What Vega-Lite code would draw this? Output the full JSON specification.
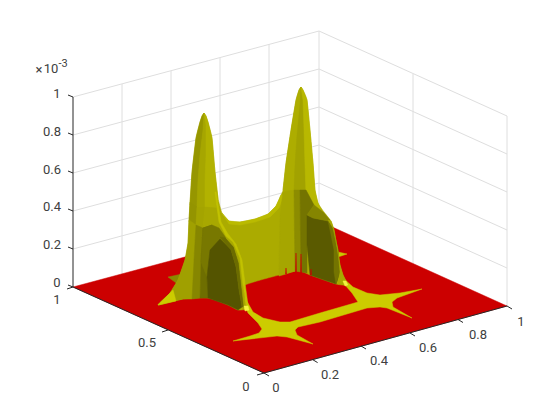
{"$schema":"https://vega.github.io/schema/vega-lite/v6.json","width":560,"height":420,"autosize":{"type":"fit","contains":"padding"},"padding":0,"background":"white","config":{"view":{"stroke":null}},
"datasets":{
"grid":[{"h":73,"v":249,"h2":319,"v2":183},{"h":73,"v":211,"h2":319,"v2":145},{"h":73,"v":173,"h2":319,"v2":107},{"h":73,"v":135,"h2":319,"v2":69},{"h":73,"v":97,"h2":319,"v2":31},{"h":319,"v":183,"h2":507,"v2":268},{"h":319,"v":145,"h2":507,"v2":230},{"h":319,"v":107,"h2":507,"v2":192},{"h":319,"v":69,"h2":507,"v2":154},{"h":319,"v":31,"h2":507,"v2":116},{"h":122,"v":274,"h2":122,"v2":84},{"h":171,"v":261,"h2":171,"v2":71},{"h":220,"v":248,"h2":220,"v2":58},{"h":269,"v":234,"h2":269,"v2":44},{"h":319,"v":221,"h2":319,"v2":31},{"h":413,"v":264,"h2":413,"v2":74},{"h":507,"v":306,"h2":507,"v2":116}],
"axes":[{"h":73,"v":287,"h2":73,"v2":97},{"h":264,"v":373,"h2":507,"v2":306},{"h":73,"v":287,"h2":264,"v2":373},{"h":73,"v":287,"h2":68,"v2":285},{"h":73,"v":249,"h2":68,"v2":247},{"h":73,"v":211,"h2":68,"v2":209},{"h":73,"v":173,"h2":68,"v2":171},{"h":73,"v":135,"h2":68,"v2":133},{"h":73,"v":97,"h2":68,"v2":95},{"h":264,"v":373,"h2":269,"v2":376},{"h":312.6,"v":359.6,"h2":317.6,"v2":362.6},{"h":361,"v":346,"h2":366,"v2":349},{"h":410,"v":333,"h2":415,"v2":336},{"h":458,"v":319.5,"h2":463,"v2":322.5},{"h":507,"v":306,"h2":512,"v2":309},{"h":264,"v":373,"h2":257,"v2":375},{"h":168,"v":330,"h2":162,"v2":332},{"h":73,"v":287,"h2":67,"v2":289}],
"labels":[{"t":"0","h":276,"v":388},{"t":"0.2","h":330,"v":375},{"t":"0.4","h":379,"v":361},{"t":"0.6","h":428,"v":348},{"t":"0.8","h":478,"v":335},{"t":"1","h":521,"v":322},{"t":"0","h":246,"v":387},{"t":"0.5","h":147,"v":343},{"t":"1","h":57,"v":300},{"t":"0","h":57,"v":283},{"t":"0.2","h":52,"v":245},{"t":"0.4","h":52,"v":207},{"t":"0.6","h":52,"v":170},{"t":"0.8","h":52,"v":132},{"t":"1","h":57,"v":94},{"t":"×","h":39,"v":70},{"t":"10","h":51,"v":69}],
"sup":[{"t":"-3","h":63,"v":64}],
"flat":[
{"p":"floor","h":73,"v":287},{"p":"floor","h":319,"v":221},{"p":"floor","h":507,"v":306},{"p":"floor","h":264,"v":373},
{"p":"band","h":233,"v":341},{"p":"band","h":250,"v":336},{"p":"band","h":259,"v":333},{"p":"band","h":262,"v":329},{"p":"band","h":258,"v":323},{"p":"band","h":248,"v":313},{"p":"band","h":243,"v":300},{"p":"band","h":245,"v":298},{"p":"band","h":253,"v":312},{"p":"band","h":263,"v":318},{"p":"band","h":280,"v":322},{"p":"band","h":290,"v":322},{"p":"band","h":320,"v":313},{"p":"band","h":358,"v":302},{"p":"band","h":352,"v":293},{"p":"band","h":345,"v":285},{"p":"band","h":343,"v":278},{"p":"band","h":353,"v":287},{"p":"band","h":367,"v":293},{"p":"band","h":380,"v":295},{"p":"band","h":400,"v":293},{"p":"band","h":422,"v":289},{"p":"band","h":397,"v":298},{"p":"band","h":392,"v":302},{"p":"band","h":393,"v":307},{"p":"band","h":412,"v":318},{"p":"band","h":387,"v":308},{"p":"band","h":380,"v":307},{"p":"band","h":367,"v":308},{"p":"band","h":320,"v":322},{"p":"band","h":298,"v":327},{"p":"band","h":295,"v":330},{"p":"band","h":297,"v":335},{"p":"band","h":313,"v":344},{"p":"band","h":287,"v":337},{"p":"band","h":277,"v":336},
{"p":"tipR","h":338,"v":252},{"p":"tipR","h":347,"v":254},{"p":"tipR","h":338,"v":257},
{"p":"tipL","h":168,"v":277},{"p":"tipL","h":182,"v":274},{"p":"tipL","h":179,"v":285}],
"sil":[{"p":"sil","h":158,"v":305},{"p":"sil","h":170,"v":293},{"p":"sil","h":178,"v":280},{"p":"sil","h":185,"v":260},{"p":"sil","h":188,"v":243},{"p":"sil","h":189,"v":220},{"p":"sil","h":190,"v":202},{"p":"sil","h":192,"v":172},{"p":"sil","h":196,"v":138},{"p":"sil","h":200,"v":122},{"p":"sil","h":202,"v":116},{"p":"sil","h":204,"v":113},{"p":"sil","h":206,"v":116},{"p":"sil","h":208,"v":122},{"p":"sil","h":212,"v":138},{"p":"sil","h":215,"v":172},{"p":"sil","h":218,"v":198},{"p":"sil","h":222,"v":213},{"p":"sil","h":229,"v":221},{"p":"sil","h":240,"v":222},{"p":"sil","h":255,"v":219},{"p":"sil","h":268,"v":214},{"p":"sil","h":276,"v":206},{"p":"sil","h":281,"v":195},{"p":"sil","h":283,"v":190},{"p":"sil","h":286,"v":163},{"p":"sil","h":291,"v":130},{"p":"sil","h":296,"v":100},{"p":"sil","h":299,"v":90},{"p":"sil","h":301,"v":87},{"p":"sil","h":303,"v":90},{"p":"sil","h":307,"v":100},{"p":"sil","h":310,"v":130},{"p":"sil","h":313,"v":163},{"p":"sil","h":315,"v":190},{"p":"sil","h":318,"v":203},{"p":"sil","h":324,"v":212},{"p":"sil","h":331,"v":221},{"p":"sil","h":334,"v":230},{"p":"sil","h":337,"v":247},{"p":"sil","h":340,"v":265},{"p":"sil","h":343,"v":275},{"p":"sil","h":348,"v":285},{"p":"sil","h":336,"v":284},{"p":"sil","h":310,"v":275},{"p":"sil","h":296,"v":271},{"p":"sil","h":243,"v":286},{"p":"sil","h":247,"v":308},{"p":"sil","h":238,"v":310},{"p":"sil","h":228,"v":305},{"p":"sil","h":208,"v":298},{"p":"sil","h":183,"v":299}],
"surf":[
{"p":"wallTop","h":222,"v":213},{"p":"wallTop","h":229,"v":221},{"p":"wallTop","h":240,"v":222},{"p":"wallTop","h":255,"v":219},{"p":"wallTop","h":268,"v":214},{"p":"wallTop","h":276,"v":206},{"p":"wallTop","h":281,"v":195},{"p":"wallTop","h":284,"v":195},{"p":"wallTop","h":279,"v":208},{"p":"wallTop","h":270,"v":217},{"p":"wallTop","h":255,"v":222},{"p":"wallTop","h":240,"v":225},{"p":"wallTop","h":229,"v":224},
{"p":"lpA","h":190,"v":205},{"p":"lpA","h":192,"v":172},{"p":"lpA","h":196,"v":138},{"p":"lpA","h":200,"v":122},{"p":"lpA","h":202,"v":116},{"p":"lpA","h":204,"v":113},{"p":"lpA","h":203,"v":130},{"p":"lpA","h":200,"v":155},{"p":"lpA","h":198,"v":180},{"p":"lpA","h":197,"v":207},
{"p":"lpB","h":204,"v":113},{"p":"lpB","h":206,"v":125},{"p":"lpB","h":206,"v":155},{"p":"lpB","h":205,"v":180},{"p":"lpB","h":205,"v":207},{"p":"lpB","h":197,"v":207},{"p":"lpB","h":198,"v":180},{"p":"lpB","h":200,"v":155},{"p":"lpB","h":203,"v":130},
{"p":"lpC","h":204,"v":113},{"p":"lpC","h":206,"v":116},{"p":"lpC","h":208,"v":122},{"p":"lpC","h":212,"v":138},{"p":"lpC","h":215,"v":172},{"p":"lpC","h":218,"v":198},{"p":"lpC","h":216,"v":208},{"p":"lpC","h":205,"v":207},{"p":"lpC","h":205,"v":180},{"p":"lpC","h":206,"v":155},{"p":"lpC","h":206,"v":125},
{"p":"up1","h":190,"v":202},{"p":"up1","h":197,"v":207},{"p":"up1","h":196,"v":225},{"p":"up1","h":189,"v":222},
{"p":"up2","h":197,"v":207},{"p":"up2","h":205,"v":207},{"p":"up2","h":203,"v":228},{"p":"up2","h":196,"v":225},
{"p":"up3","h":205,"v":207},{"p":"up3","h":216,"v":208},{"p":"up3","h":219,"v":222},{"p":"up3","h":226,"v":236},{"p":"up3","h":220,"v":237},{"p":"up3","h":213,"v":238},{"p":"up3","h":212,"v":225},{"p":"up3","h":203,"v":228},
{"p":"L1","h":189,"v":220},{"p":"L1","h":188,"v":243},{"p":"L1","h":185,"v":260},{"p":"L1","h":178,"v":280},{"p":"L1","h":170,"v":293},{"p":"L1","h":158,"v":305},{"p":"L1","h":183,"v":299},{"p":"L1","h":192,"v":299},{"p":"L1","h":194,"v":260},{"p":"L1","h":196,"v":225},
{"p":"L0","h":158,"v":305},{"p":"L0","h":166,"v":297},{"p":"L0","h":173,"v":290},{"p":"L0","h":176,"v":301},
{"p":"L2","h":196,"v":225},{"p":"L2","h":194,"v":260},{"p":"L2","h":192,"v":299},{"p":"L2","h":200,"v":298},{"p":"L2","h":201,"v":262},{"p":"L2","h":203,"v":228},
{"p":"L3","h":203,"v":228},{"p":"L3","h":201,"v":262},{"p":"L3","h":200,"v":298},{"p":"L3","h":208,"v":298},{"p":"L3","h":207,"v":277},{"p":"L3","h":209,"v":252},{"p":"L3","h":213,"v":238},{"p":"L3","h":212,"v":225},
{"p":"tr1","h":203,"v":228},{"p":"tr1","h":212,"v":225},{"p":"tr1","h":219,"v":228},{"p":"tr1","h":226,"v":238},{"p":"tr1","h":232,"v":250},{"p":"tr1","h":210,"v":254},{"p":"tr1","h":207,"v":277},{"p":"tr1","h":201,"v":262},
{"p":"dark1","h":208,"v":298},{"p":"dark1","h":207,"v":277},{"p":"dark1","h":210,"v":250},{"p":"dark1","h":220,"v":239},{"p":"dark1","h":231,"v":250},{"p":"dark1","h":236,"v":267},{"p":"dark1","h":239,"v":290},{"p":"dark1","h":242,"v":307},{"p":"dark1","h":238,"v":310},{"p":"dark1","h":228,"v":305},
{"p":"edge1","h":220,"v":237},{"p":"edge1","h":226,"v":238},{"p":"edge1","h":234,"v":247},{"p":"edge1","h":239,"v":263},{"p":"edge1","h":241.5,"v":285},{"p":"edge1","h":244,"v":307},{"p":"edge1","h":242,"v":307},{"p":"edge1","h":239,"v":290},{"p":"edge1","h":236,"v":267},{"p":"edge1","h":231,"v":250},
{"p":"edge2","h":226,"v":236},{"p":"edge2","h":233,"v":242},{"p":"edge2","h":240,"v":258},{"p":"edge2","h":243,"v":285},{"p":"edge2","h":246,"v":305},{"p":"edge2","h":244,"v":307},{"p":"edge2","h":241.5,"v":285},{"p":"edge2","h":239,"v":263},{"p":"edge2","h":234,"v":247},{"p":"edge2","h":226,"v":238},
{"p":"ridge","h":215,"v":192},{"p":"ridge","h":216,"v":192},{"p":"ridge","h":221,"v":222},{"p":"ridge","h":228,"v":234},{"p":"ridge","h":236,"v":244},{"p":"ridge","h":242,"v":260},{"p":"ridge","h":245,"v":283},{"p":"ridge","h":248,"v":305},{"p":"ridge","h":246,"v":305},{"p":"ridge","h":243,"v":285},{"p":"ridge","h":240,"v":258},{"p":"ridge","h":233,"v":242},{"p":"ridge","h":226,"v":236},{"p":"ridge","h":219,"v":222},
{"p":"spot1","h":244,"v":306},{"p":"spot1","h":248,"v":306},{"p":"spot1","h":249,"v":310},{"p":"spot1","h":245,"v":311},
{"p":"rpA","h":283,"v":190},{"p":"rpA","h":286,"v":163},{"p":"rpA","h":291,"v":130},{"p":"rpA","h":296,"v":100},{"p":"rpA","h":299,"v":90},{"p":"rpA","h":301,"v":87},{"p":"rpA","h":300,"v":105},{"p":"rpA","h":297,"v":135},{"p":"rpA","h":295,"v":165},{"p":"rpA","h":294,"v":190},
{"p":"rpB","h":301,"v":87},{"p":"rpB","h":303,"v":100},{"p":"rpB","h":304,"v":130},{"p":"rpB","h":305,"v":165},{"p":"rpB","h":305,"v":190},{"p":"rpB","h":294,"v":190},{"p":"rpB","h":295,"v":165},{"p":"rpB","h":297,"v":135},{"p":"rpB","h":300,"v":105},
{"p":"rpC","h":301,"v":87},{"p":"rpC","h":303,"v":90},{"p":"rpC","h":307,"v":100},{"p":"rpC","h":310,"v":130},{"p":"rpC","h":313,"v":163},{"p":"rpC","h":315,"v":190},{"p":"rpC","h":318,"v":203},{"p":"rpC","h":322,"v":212},{"p":"rpC","h":314,"v":205},{"p":"rpC","h":306,"v":190},{"p":"rpC","h":305,"v":165},{"p":"rpC","h":304,"v":130},{"p":"rpC","h":303,"v":100},
{"p":"Rs1","h":283,"v":192},{"p":"Rs1","h":294,"v":190},{"p":"Rs1","h":295,"v":271},{"p":"Rs1","h":286,"v":274},{"p":"Rs1","h":279,"v":276},{"p":"Rs1","h":280,"v":215},
{"p":"Rs2","h":294,"v":190},{"p":"Rs2","h":300,"v":190},{"p":"Rs2","h":301,"v":272},{"p":"Rs2","h":295,"v":271},
{"p":"Rs3","h":300,"v":190},{"p":"Rs3","h":306,"v":190},{"p":"Rs3","h":314,"v":205},{"p":"Rs3","h":307,"v":215},{"p":"Rs3","h":307,"v":273},{"p":"Rs3","h":301,"v":272},
{"p":"dark2","h":307,"v":215},{"p":"dark2","h":313,"v":218},{"p":"dark2","h":328,"v":221},{"p":"dark2","h":333,"v":228},{"p":"dark2","h":338,"v":250},{"p":"dark2","h":340,"v":272},{"p":"dark2","h":336,"v":284},{"p":"dark2","h":310,"v":275},{"p":"dark2","h":307,"v":245},
{"p":"blockTop","h":307,"v":215},{"p":"blockTop","h":314,"v":205},{"p":"blockTop","h":323,"v":212},{"p":"blockTop","h":330,"v":220},{"p":"blockTop","h":328,"v":221},{"p":"blockTop","h":313,"v":218},
{"p":"edgeR","h":328,"v":221},{"p":"edgeR","h":333,"v":228},{"p":"edgeR","h":338,"v":250},{"p":"edgeR","h":340,"v":272},{"p":"edgeR","h":336,"v":284},{"p":"edgeR","h":334,"v":272},{"p":"edgeR","h":334,"v":250},{"p":"edgeR","h":330,"v":230},
{"p":"rstrip","h":328,"v":220},{"p":"rstrip","h":331,"v":221},{"p":"rstrip","h":334,"v":230},{"p":"rstrip","h":337,"v":247},{"p":"rstrip","h":340,"v":265},{"p":"rstrip","h":343,"v":275},{"p":"rstrip","h":347,"v":284},{"p":"rstrip","h":338,"v":284},{"p":"rstrip","h":340,"v":272},{"p":"rstrip","h":338,"v":250},{"p":"rstrip","h":333,"v":228},
{"p":"spot2","h":343,"v":281},{"p":"spot2","h":346,"v":281},{"p":"spot2","h":348,"v":285},{"p":"spot2","h":345,"v":286},
{"p":"s1","h":285.5,"v":274},{"p":"s1","h":286,"v":268},{"p":"s1","h":286.5,"v":274},
{"p":"s2","h":295.5,"v":272},{"p":"s2","h":296,"v":253},{"p":"s2","h":296.5,"v":272},
{"p":"s3","h":300.5,"v":273},{"p":"s3","h":301,"v":254},{"p":"s3","h":301.5,"v":273},
{"p":"s4","h":310.5,"v":275},{"p":"s4","h":311,"v":269},{"p":"s4","h":311.5,"v":275}
]},
"encoding":{"x":{"type":"quantitative","scale":{"domain":[0,560],"nice":false,"zero":false},"axis":null},"y":{"type":"quantitative","scale":{"domain":[0,420],"reverse":true,"nice":false,"zero":false},"axis":null}},
"layer":[
{"data":{"name":"grid"},"mark":{"type":"rule","stroke":"#DEDEDE","strokeWidth":1},"encoding":{"x":{"field":"h","type":"quantitative"},"y":{"field":"v","type":"quantitative"},"x2":{"field":"h2"},"y2":{"field":"v2"}}},
{"encoding":{"x":{"field":"h","type":"quantitative"},"y":{"field":"v","type":"quantitative"},"order":{"value":null},
"fill":{"field":"p","type":"nominal","legend":null,"sort":null,"scale":{"domain":["floor","band","tipR","tipL","sil","wallTop","lpA","lpB","lpC","up1","up2","up3","L1","L0","L2","L3","tr1","dark1","edge1","edge2","ridge","spot1","rpA","rpB","rpC","Rs1","Rs2","Rs3","dark2","blockTop","edgeR","rstrip","spot2","s1","s2","s3","s4"],"range":["#CC0000","#CCCC00","#C8C800","#8A8A00","#ABAB00","#BABA00","#969600","#A6A600","#B2B200","#949400","#A4A400","#A8A800","#A0A000","#CCCC00","#868600","#6E6E00","#787800","#545400","#6C6C00","#A8A800","#C2C200","#F4F440","#ADAD00","#A2A200","#B8B800","#A6A600","#8C8C00","#747400","#5A5A00","#858500","#747400","#A8A800","#F4F440","#CC0000","#CC0000","#CC0000","#CC0000"]}},
"stroke":{"field":"p","type":"nominal","legend":null,"sort":null,"scale":{"domain":["floor","band","tipR","tipL","sil","wallTop","lpA","lpB","lpC","up1","up2","up3","L1","L0","L2","L3","tr1","dark1","edge1","edge2","ridge","spot1","rpA","rpB","rpC","Rs1","Rs2","Rs3","dark2","blockTop","edgeR","rstrip","spot2","s1","s2","s3","s4"],"range":["#CC0000","#CCCC00","#C8C800","#8A8A00","#ABAB00","#BABA00","#969600","#A6A600","#B2B200","#949400","#A4A400","#A8A800","#A0A000","#CCCC00","#868600","#6E6E00","#787800","#545400","#6C6C00","#A8A800","#C2C200","#F4F440","#ADAD00","#A2A200","#B8B800","#A6A600","#8C8C00","#747400","#5A5A00","#858500","#747400","#A8A800","#F4F440","#CC0000","#CC0000","#CC0000","#CC0000"]}}},
"layer":[
{"data":{"name":"flat"},"mark":{"type":"line","strokeWidth":0.5,"interpolate":"linear-closed"}},
{"data":{"name":"sil"},"mark":{"type":"line","strokeWidth":0.5,"interpolate":"cardinal-closed","tension":0.5}},
{"data":{"name":"surf"},"mark":{"type":"line","strokeWidth":0.5,"interpolate":"linear-closed"}}
]},
{"data":{"name":"axes"},"mark":{"type":"rule","stroke":"#262626","strokeWidth":1},"encoding":{"x":{"field":"h","type":"quantitative"},"y":{"field":"v","type":"quantitative"},"x2":{"field":"h2"},"y2":{"field":"v2"}}},
{"data":{"name":"labels"},"mark":{"type":"text","font":"Roboto","fontSize":13,"fill":"#404040","align":"center","baseline":"middle"},"encoding":{"x":{"field":"h","type":"quantitative"},"y":{"field":"v","type":"quantitative"},"text":{"field":"t"}}},
{"data":{"name":"sup"},"mark":{"type":"text","font":"Roboto","fontSize":11,"fill":"#404040","align":"center","baseline":"middle"},"encoding":{"x":{"field":"h","type":"quantitative"},"y":{"field":"v","type":"quantitative"},"text":{"field":"t"}}}
]}
